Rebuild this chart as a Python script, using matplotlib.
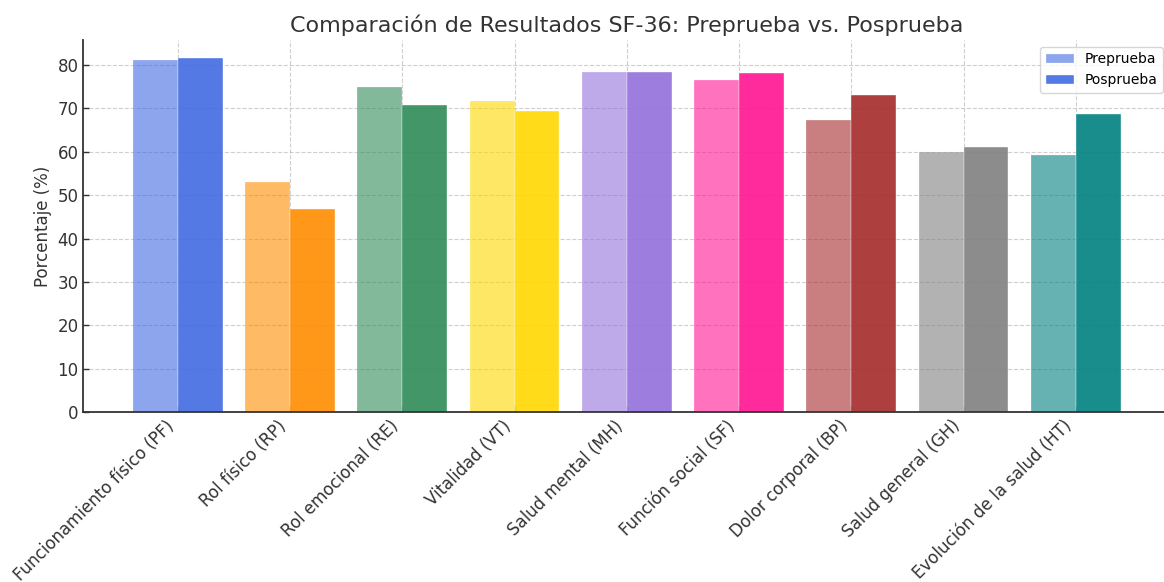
import numpy as np
import matplotlib
matplotlib.use("Agg")
import matplotlib.pyplot as plt

# datos SF-36
dimensiones = ["Funcionamiento físico (PF)", "Rol físico (RP)", "Rol emocional (RE)",
               "Vitalidad (VT)", "Salud mental (MH)", "Función social (SF)",
               "Dolor corporal (BP)", "Salud general (GH)", "Evolución de la salud (HT)"]
preprueba = [81.2, 53.0, 74.9, 71.8, 78.5, 76.6, 67.4, 59.9, 59.3]
posprueba = [81.7, 46.7, 70.8, 69.5, 78.5, 78.1, 73.1, 61.2, 68.7]
colores = ["royalblue", "darkorange", "seagreen", "gold", "mediumpurple",
           "deeppink", "brown", "gray", "teal"]

txt = "#333333"
fig = plt.figure(figsize=(11.64, 5.82), dpi=100)
ax = fig.add_axes([0.0717, 0.2921, 0.9335, 0.6392])

x = np.arange(len(dimensiones))
w = 0.4
for i in range(len(dimensiones)):
    ax.bar(x[i] - w/2, preprueba[i], w, color=colores[i], alpha=0.6,
           edgecolor="white", linewidth=0.3,
           label="Preprueba" if i == 0 else None)
    ax.bar(x[i] + w/2, posprueba[i], w, color=colores[i], alpha=0.9,
           edgecolor="white", linewidth=0.3,
           label="Posprueba" if i == 0 else None)

ax.set_xticks(x)
ax.set_xticklabels(dimensiones, rotation=45, ha="right", fontsize=12, color=txt)
ax.tick_params(axis="y", labelsize=12, labelcolor=txt)
ax.tick_params(direction="in", length=4, width=1, color="#333333")
ax.set_ylabel("Porcentaje (%)", fontsize=12, color=txt)
ax.set_title("Comparación de Resultados SF-36: Preprueba vs. Posprueba",
             fontsize=16, color=txt)

ax.set_axisbelow(True)
ax.grid(True, linestyle="--", color="#bbbbbb", alpha=0.7, linewidth=0.8)
for s in ["top", "right"]:
    ax.spines[s].set_visible(False)
for s in ["left", "bottom"]:
    ax.spines[s].set_color("#333333")
    ax.spines[s].set_linewidth(1.3)

ax.legend(loc="upper right", fontsize=10, framealpha=0.8, edgecolor="#cccccc")

fig.savefig("out.png", dpi=100)
